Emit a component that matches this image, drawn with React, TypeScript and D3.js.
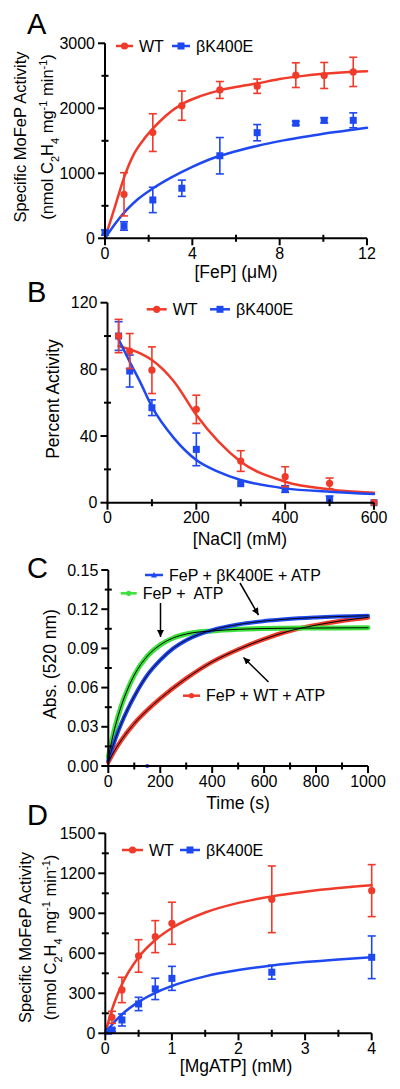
import React from "react";
import * as d3 from "d3";

const FONT = "'Liberation Sans', Arial, Helvetica, sans-serif";
const RED = "#F03A2A";
const BLUE = "#1E48F0";
const GREEN = "#3BE03B";

// ---------- Panel A : [FeP] titration ----------
const aWTx = [0.87, 2.19, 3.52, 5.26, 6.97, 8.74, 10.04, 11.37];
const aWTy = [677, 1626, 2041, 2282, 2340, 2510, 2505, 2560];
const aWTe = [333, 290, 225, 130, 110, 190, 200, 225];
const aKx = [0, 0.87, 2.19, 3.52, 5.26, 6.97, 8.74, 10.04, 11.37];
const aKy = [90, 190, 590, 770, 1270, 1625, 1770, 1815, 1815];
const aKe = [40, 65, 195, 125, 280, 125, 30, 40, 115];
const aWTfitX = [0, 0.45, 0.9, 1.3, 1.75, 2.2, 2.8, 3.5, 4.4, 5.3, 6.2, 7, 8, 9, 10, 11, 12];
const aWTfitY = [0, 480, 960, 1280, 1510, 1690, 1890, 2060, 2190, 2280, 2340, 2385, 2450, 2495, 2530, 2555, 2570];
const aKfitX = [0, 0.5, 1, 1.5, 2.2, 3, 4, 5, 6, 7, 8, 9, 10, 11, 12];
const aKfitY = [0, 240, 440, 600, 770, 930, 1100, 1240, 1340, 1425, 1495, 1555, 1610, 1655, 1700];

// ---------- Panel B : [NaCl] ----------
const bX = [25, 50, 100, 200, 300, 400, 500, 600];
const bWTy = [100, 91, 79.5, 56, 25, 15.6, 11.6, 0];
const bWTe = [10, 10.5, 14, 8.5, 6.2, 6, 3.2, 0];
const bKy = [100, 79, 57, 32, 11.4, 8.2, 2, 0];
const bKe = [8.6, 9.6, 4.7, 9.8, 0, 2, 2, 0];
const bFitX = [25, 50, 75, 100, 150, 200, 250, 300, 400, 500, 600];
const bWTfitY = [94, 92, 89.5, 85.6, 72.6, 52.6, 36.6, 24.6, 12.6, 8, 6];
const bKfitY = [98, 84.6, 71.6, 57.6, 38.6, 25.6, 18.5, 13.6, 8.6, 6.6, 5.2];

// ---------- Panel C : kinetics at 520 nm ----------
const cGreenT = [0, 25, 50, 75, 100, 150, 200, 250, 300, 400, 500, 600, 800, 1000];
const cGreenA = [0.007, 0.029, 0.046, 0.059, 0.0696, 0.084, 0.0927, 0.098, 0.101, 0.1034, 0.1046, 0.1052, 0.1056, 0.1058];
const cBlueT = [0, 25, 50, 75, 100, 150, 200, 250, 300, 400, 500, 600, 800, 1000];
const cBlueA = [0.0043, 0.0195, 0.0325, 0.0436, 0.0532, 0.0695, 0.081, 0.09, 0.0963, 0.104, 0.1083, 0.1109, 0.1137, 0.115];
const cRedT = [0, 25, 50, 100, 150, 200, 300, 400, 500, 600, 700, 800, 900, 1000];
const cRedA = [0.003, 0.012, 0.0197, 0.0325, 0.0427, 0.0516, 0.067, 0.0797, 0.0892, 0.0971, 0.1035, 0.1078, 0.1112, 0.1137];
const cOutlierT = [150];
const cOutlierA = [0];

// ---------- Panel D : [MgATP] ----------
const dWTx = [0.1, 0.25, 0.5, 0.75, 1, 2.5, 4];
const dWTy = [120, 325, 580, 725, 825, 1005, 1070];
const dWTe = [45, 95, 122, 120, 158, 250, 195];
const dKx = [0.05, 0.1, 0.25, 0.5, 0.75, 1, 2.5, 4];
const dKy = [15, 25, 100, 220, 333, 412, 458, 570];
const dKe = [8, 10, 45, 50, 80, 90, 52, 160];
const dFitX = [0, 0.1, 0.25, 0.5, 0.75, 1, 1.5, 2, 2.5, 3, 3.5, 4];
const dWTfitY = [0, 177, 367, 571, 700, 790, 906, 978, 1027, 1062, 1089, 1110];
const dKfitY = [0, 64, 142, 236, 304, 355, 427, 474, 508, 534, 554, 570];

type P = { x: number; y: number; e: number };
const zip = (xs: number[], ys: number[], es?: number[]): P[] =>
  xs.map((x, i) => ({ x, y: ys[i], e: es ? es[i] : 0 }));

type Sc = d3.ScaleLinear<number, number>;

function Axes(props: {
  x: Sc; y: Sc; xMajor: number[]; xMinor: number[]; yMajor: number[]; yMinor: number[];
  fx: (v: number) => string; fy: (v: number) => string;
}) {
  const { x, y, xMajor, xMinor, yMajor, yMinor, fx, fy } = props;
  const [x0, x1] = x.range();
  const [y0, y1] = y.range();
  return (
    <g>
      <g stroke="#000" strokeWidth={2}>
        <line x1={x0} x2={x0} y1={y0 + 1} y2={y1} />
        <line x1={x0 - 1} x2={x1} y1={y0} y2={y0} />
        {yMajor.map((v) => <line key={"ym" + v} x1={x0 - 7} x2={x0} y1={y(v)} y2={y(v)} />)}
        {yMinor.map((v) => <line key={"yn" + v} x1={x0 - 3.5} x2={x0 + 3.5} y1={y(v)} y2={y(v)} />)}
        {xMajor.map((v) => <line key={"xm" + v} x1={x(v)} x2={x(v)} y1={y0} y2={y0 + 7} />)}
        {xMinor.map((v) => <line key={"xn" + v} x1={x(v)} x2={x(v)} y1={y0 - 3.5} y2={y0 + 3.5} />)}
      </g>
      <g fontFamily={FONT} fontSize={16} fill="#000">
        {yMajor.map((v) => (
          <text key={"yl" + v} x={x0 - 10} y={y(v)} dy="0.35em" textAnchor="end">{fy(v)}</text>
        ))}
        {xMajor.map((v) => (
          <text key={"xl" + v} x={x(v)} y={y0 + 20.5} textAnchor="middle">{fx(v)}</text>
        ))}
      </g>
    </g>
  );
}

function ErrPts({ x, y, pts, color, shape }: { x: Sc; y: Sc; pts: P[]; color: string; shape: "circle" | "square" }) {
  return (
    <g>
      {pts.map((p, i) => (
        <g key={i}>
          {p.e > 0 && (
            <g stroke={color} strokeWidth={1.6}>
              <line x1={x(p.x)} x2={x(p.x)} y1={y(p.y - p.e)} y2={y(p.y + p.e)} />
              <line x1={x(p.x) - 4} x2={x(p.x) + 4} y1={y(p.y - p.e)} y2={y(p.y - p.e)} />
              <line x1={x(p.x) - 4} x2={x(p.x) + 4} y1={y(p.y + p.e)} y2={y(p.y + p.e)} />
            </g>
          )}
          {shape === "circle" ? (
            <circle cx={x(p.x)} cy={y(p.y)} r={3.6} fill={color} />
          ) : (
            <rect x={x(p.x) - 3.5} y={y(p.y) - 3.5} width={7} height={7} fill={color} />
          )}
        </g>
      ))}
    </g>
  );
}

function Curve({ x, y, pts, color, width }: { x: Sc; y: Sc; pts: P[]; color: string; width: number }) {
  const gen = d3.line<P>().x((d) => x(d.x)).y((d) => y(d.y)).curve(d3.curveMonotoneX);
  return <path d={gen(pts) || ""} fill="none" stroke={color} strokeWidth={width} strokeLinejoin="round" strokeLinecap="round" />;
}

function LegendItem({ x1, x2, y, color, shape, label }: { x1: number; x2: number; y: number; color: string; shape: string; label: string }) {
  const cx = (x1 + x2) / 2;
  return (
    <g>
      <line x1={x1} x2={x2} y1={y} y2={y} stroke={color} strokeWidth={2.5} />
      {shape === "circle" && <circle cx={cx} cy={y} r={3.6} fill={color} />}
      {shape === "square" && <rect x={cx - 3.5} y={y - 3.5} width={7} height={7} fill={color} />}
      {shape === "tri" && <path d={`M${cx - 3},${y + 2.5}L${cx + 3},${y + 2.5}L${cx},${y - 3}Z`} fill={color} />}
      {shape === "dot" && <circle cx={cx} cy={y} r={2.6} fill={color} />}
      <text x={x2 + 6} y={y} dy="0.35em" fontFamily={FONT} fontSize={16}>{label}</text>
    </g>
  );
}

function YTitle2({ cx1, cx2, cy }: { cx1: number; cx2: number; cy: number }) {
  return (
    <g fontFamily={FONT} fontSize={16.5}>
      <text x={cx1} y={cy} dy="0.35em" textAnchor="middle" transform={`rotate(-90,${cx1},${cy})`}>
        Specific MoFeP Activity
      </text>
      <text x={cx2} y={cy} dy="0.35em" textAnchor="middle" transform={`rotate(-90,${cx2},${cy})`}>
        (nmol C<tspan baselineShift="sub" fontSize={11}>2</tspan>H<tspan baselineShift="sub" fontSize={11}>4</tspan> mg
        <tspan baselineShift="super" fontSize={11}>-1</tspan> min<tspan baselineShift="super" fontSize={11}>-1</tspan>)
      </text>
    </g>
  );
}

const PanelLetter = ({ x, y, t }: { x: number; y: number; t: string }) => (
  <text x={x} y={y} fontFamily={FONT} fontSize={29}>{t}</text>
);

const XTitle = ({ x, y, t }: { x: number; y: number; t: string }) => (
  <text x={x} y={y} textAnchor="middle" fontFamily={FONT} fontSize={17.5}>{t}</text>
);

export default function App() {
  const fmt = (v: number) => String(v);
  // A
  const ax = d3.scaleLinear().domain([0, 12]).range([105, 367]);
  const ay = d3.scaleLinear().domain([0, 3000]).range([238.3, 43.3]);
  // B
  const bx = d3.scaleLinear().domain([0, 600]).range([107.5, 374]);
  const by = d3.scaleLinear().domain([0, 120]).range([502.7, 302.7]);
  // C
  const cx = d3.scaleLinear().domain([0, 1000]).range([108.3, 368]);
  const cy = d3.scaleLinear().domain([0, 0.15]).range([766, 570]);
  // D
  const dx = d3.scaleLinear().domain([0, 4]).range([105.3, 371.7]);
  const dy = d3.scaleLinear().domain([0, 1500]).range([1033.3, 833.3]);

  const range = (a: number, b: number, s: number) => d3.range(a, b + s / 2, s);

  return (
    <svg width={400} height={1089} style={{ position: "absolute", left: 0, top: 0, background: "#fff" }}>
      <defs>
        <marker id="arr" viewBox="0 0 10 10" refX={10} refY={5} markerWidth={7} markerHeight={7} orient="auto" markerUnits="userSpaceOnUse">
          <path d="M0,0L10,5L0,10Z" fill="#000" />
        </marker>
      </defs>
      <rect width={400} height={1089} fill="#fff" />

      {/* ---------- A ---------- */}
      <PanelLetter x={27} y={34} t="A" />
      <YTitle2 cx1={20} cx2={47.5} cy={137} />
      <Curve x={ax} y={ay} pts={zip(aWTfitX, aWTfitY)} color={RED} width={2.5} />
      <Curve x={ax} y={ay} pts={zip(aKfitX, aKfitY)} color={BLUE} width={2.5} />
      <ErrPts x={ax} y={ay} pts={zip(aWTx, aWTy, aWTe)} color={RED} shape="circle" />
      <ErrPts x={ax} y={ay} pts={zip(aKx, aKy, aKe)} color={BLUE} shape="square" />
      <Axes x={ax} y={ay} xMajor={[0, 4, 8, 12]} xMinor={[2, 6, 10]} yMajor={range(0, 3000, 1000)} yMinor={[500, 1500, 2500]} fx={fmt} fy={fmt} />
      <LegendItem x1={116} x2={133} y={46} color={RED} shape="circle" label="WT" />
      <LegendItem x1={172} x2={190} y={46} color={BLUE} shape="square" label="βK400E" />
      <XTitle x={236} y={277.5} t="[FeP] (μM)" />

      {/* ---------- B ---------- */}
      <PanelLetter x={27} y={302} t="B" />
      <text x={53} y={399} dy="0.35em" textAnchor="middle" fontFamily={FONT} fontSize={17.5} transform="rotate(-90,53,399)">
        Percent Activity
      </text>
      <Curve x={bx} y={by} pts={zip(bFitX, bWTfitY)} color={RED} width={2.5} />
      <Curve x={bx} y={by} pts={zip(bFitX, bKfitY)} color={BLUE} width={2.5} />
      <ErrPts x={bx} y={by} pts={zip(bX, bKy, bKe)} color={BLUE} shape="square" />
      <ErrPts x={bx} y={by} pts={zip(bX, bWTy, bWTe)} color={RED} shape="circle" />
      <Axes x={bx} y={by} xMajor={range(0, 600, 200)} xMinor={[100, 300, 500]} yMajor={range(0, 120, 40)} yMinor={[20, 60, 100]} fx={fmt} fy={fmt} />
      <LegendItem x1={146.7} x2={166.7} y={309.3} color={RED} shape="circle" label="WT" />
      <LegendItem x1={210} x2={230} y={309.3} color={BLUE} shape="square" label="βK400E" />
      <XTitle x={240} y={545} t="[NaCl] (mM)" />

      {/* ---------- C ---------- */}
      <PanelLetter x={27} y={578} t="C" />
      <text x={50} y={664} dy="0.35em" textAnchor="middle" fontFamily={FONT} fontSize={17.5} transform="rotate(-90,50,664)">
        Abs. (520 nm)
      </text>
      <Curve x={cx} y={cy} pts={zip(cRedT, cRedA)} color={RED} width={4.5} />
      <Curve x={cx} y={cy} pts={zip(cGreenT, cGreenA)} color={GREEN} width={5} />
      <Curve x={cx} y={cy} pts={zip(cBlueT, cBlueA)} color={BLUE} width={4} />
      <Curve x={cx} y={cy} pts={zip(cRedT, cRedA)} color="#000" width={1} />
      <Curve x={cx} y={cy} pts={zip(cGreenT, cGreenA)} color="#000" width={1} />
      <Curve x={cx} y={cy} pts={zip(cBlueT, cBlueA)} color="#000" width={0.9} />
      {zip(cOutlierT, cOutlierA).map((p, i) => (
        <circle key={i} cx={cx(p.x)} cy={cy(p.y)} r={2} fill={BLUE} />
      ))}
      <Axes x={cx} y={cy} xMajor={range(0, 1000, 200)} xMinor={range(100, 900, 200)} yMajor={range(0, 0.15, 0.03)} yMinor={range(0.015, 0.135, 0.03)} fx={fmt} fy={d3.format(".2f")} />
      <LegendItem x1={145} x2={163} y={575} color={BLUE} shape="tri" label="FeP + βK400E + ATP" />
      <LegendItem x1={120.7} x2={136.7} y={593.3} color={GREEN} shape="dot" label={"FeP +\u00a0 ATP"} />
      <LegendItem x1={183} x2={200} y={695.7} color={RED} shape="dot" label="FeP + WT + ATP" />
      <g stroke="#000" strokeWidth={1.5}>
        <line x1={160.5} y1={603} x2={160.5} y2={637} markerEnd="url(#arr)" />
        <line x1={240} y1={583} x2={258.5} y2={615} markerEnd="url(#arr)" />
        <line x1={268.5} y1={682} x2={243.5} y2={657.5} markerEnd="url(#arr)" />
      </g>
      <XTitle x={238} y={809} t="Time (s)" />

      {/* ---------- D ---------- */}
      <PanelLetter x={27} y={825} t="D" />
      <YTitle2 cx1={25.5} cx2={50.5} cy={937.5} />
      <Curve x={dx} y={dy} pts={zip(dFitX, dWTfitY)} color={RED} width={2.5} />
      <Curve x={dx} y={dy} pts={zip(dFitX, dKfitY)} color={BLUE} width={2.5} />
      <ErrPts x={dx} y={dy} pts={zip(dWTx, dWTy, dWTe)} color={RED} shape="circle" />
      <ErrPts x={dx} y={dy} pts={zip(dKx, dKy, dKe)} color={BLUE} shape="square" />
      <Axes x={dx} y={dy} xMajor={[0, 1, 2, 3, 4]} xMinor={[0.5, 1.5, 2.5, 3.5]} yMajor={range(0, 1500, 300)} yMinor={range(150, 1350, 300)} fx={fmt} fy={fmt} />
      <LegendItem x1={122} x2={143} y={850} color={RED} shape="circle" label="WT" />
      <LegendItem x1={180} x2={200} y={850} color={BLUE} shape="square" label="βK400E" />
      <XTitle x={236} y={1072} t="[MgATP] (mM)" />
    </svg>
  );
}
